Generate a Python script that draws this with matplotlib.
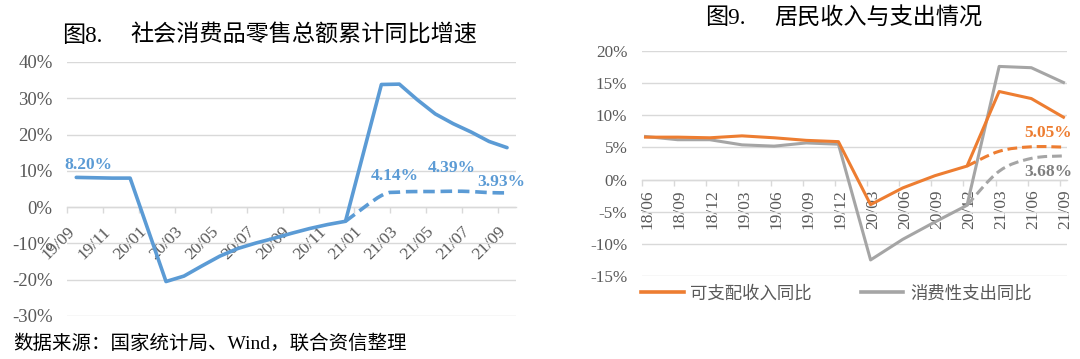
import numpy as np
import matplotlib
matplotlib.use("Agg")
import matplotlib.pyplot as plt
from matplotlib.path import Path
from matplotlib.patches import PathPatch
from matplotlib.lines import Line2D

# -----------------------------
# Data
# -----------------------------
# Fig 8: retail sales, cumulative yoy (%), monthly 19/09 .. 21/09
retail_months = ["19/09", "19/10", "19/11", "19/12", "20/01", "20/02", "20/03", "20/04",
                 "20/05", "20/06", "20/07", "20/08", "20/09", "20/10", "20/11", "20/12",
                 "21/01", "21/02", "21/03", "21/04", "21/05", "21/06", "21/07", "21/08", "21/09"]
retail_yoy = [8.2, 8.1, 8.0, 8.0, np.nan, -20.5, -19.0, -16.2, -13.5, -11.4, -9.9, -8.6,
              -7.2, -5.9, -4.8, -3.9, np.nan, 33.8, 33.9, 29.6, 25.7, 23.0, 20.7, 18.1, 16.4]
retail_2y_avg = [np.nan] * 15 + [-3.9, np.nan, 3.2, 4.14, 4.3, 4.3, 4.39, 4.3, 4.0, 3.93]
retail_ticklabels = retail_months[::2]
retail_yticks = [-30, -20, -10, 0, 10, 20, 30, 40]

# Fig 9: household income / spending, yoy (%), quarterly 18/06 .. 21/09
quarters = ["18/06", "18/09", "18/12", "19/03", "19/06", "19/09", "19/12",
            "20/03", "20/06", "20/09", "20/12", "21/03", "21/06", "21/09"]
income_yoy = [6.6, 6.6, 6.5, 6.8, 6.5, 6.1, 5.9, -3.9, -1.3, 0.6, 2.1, 13.7, 12.6, 9.7]
spend_yoy = [6.7, 6.2, 6.2, 5.4, 5.2, 5.7, 5.5, -12.5, -9.3, -6.6, -4.0, 17.6, 17.4, 15.1]
income_2y_avg = [np.nan] * 10 + [2.1, 4.4, 5.1, 5.05]
spend_2y_avg = [np.nan] * 10 + [-4.0, 1.3, 3.3, 3.68]
quarter_yticks = [-15, -10, -5, 0, 5, 10, 15, 20]

# -----------------------------
# Style
# -----------------------------
BLUE = "#5B9BD5"
ORANGE = "#ED7D31"
GRAY = "#A5A5A5"
TXT = "#595959"
GRID = "#D9D9D9"
SERIF = "Liberation Serif"
CJK = ["Liberation Serif", "Noto Sans CJK SC", "DejaVu Sans"]

W, H = 1080, 359
fig = plt.figure(figsize=(W / 100, H / 100), dpi=100)


def px_box(x0, x1, ytop, ybot):
    return [x0 / W, 1 - ybot / H, (x1 - x0) / W, (ybot - ytop) / H]


def valid(ys):
    ys = np.asarray(ys, dtype=float)
    xs = np.arange(len(ys))
    m = ~np.isnan(ys)
    return xs[m], ys[m]


def smooth_path(xs, ys):
    # Excel-like smoothed line (Catmull-Rom as cubic bezier)
    pts = list(zip(xs, ys))
    verts = [pts[0]]
    codes = [Path.MOVETO]
    for i in range(len(pts) - 1):
        p0 = pts[i - 1] if i > 0 else pts[i]
        p1 = pts[i]
        p2 = pts[i + 1]
        p3 = pts[i + 2] if i + 2 < len(pts) else pts[i + 1]
        c1 = (p1[0] + (p2[0] - p0[0]) / 6, p1[1] + (p2[1] - p0[1]) / 6)
        c2 = (p2[0] - (p3[0] - p1[0]) / 6, p2[1] - (p3[1] - p1[1]) / 6)
        verts += [c1, c2, p2]
        codes += [Path.CURVE4] * 3
    return Path(verts, codes)


def dashed_smooth(ax, ys, color, lw):
    xs, yv = valid(ys)
    patch = PathPatch(smooth_path(xs, yv), fill=False, edgecolor=color, lw=lw,
                      linestyle=(0, (3.2, 1.6)), capstyle="butt", zorder=3)
    ax.add_patch(patch)


def base_axes(ax, yticks, fs):
    for s in ["left", "right", "top"]:
        ax.spines[s].set_visible(False)
    ax.spines["bottom"].set_position(("data", 0))
    ax.spines["bottom"].set_color(GRID)
    ax.spines["bottom"].set_linewidth(1.0)
    ax.set_yticks(yticks)
    ax.set_yticklabels([f"{v}%" for v in yticks], fontfamily=SERIF, fontsize=fs, color=TXT)
    ax.tick_params(axis="y", length=0, pad=10.5)
    ax.grid(axis="y", color=GRID, lw=1.0)
    ax.set_axisbelow(True)


# -----------------------------
# Fig 8
# -----------------------------
ax1 = fig.add_axes(px_box(67.3, 516, 62, 316))
base_axes(ax1, retail_yticks, 13.5)
ax1.set_xlim(-0.5, len(retail_months) - 0.5)
ax1.set_ylim(-30, 40)

x, y = valid(retail_yoy)
ax1.plot(x, y, color=BLUE, lw=2.6, solid_joinstyle="round", solid_capstyle="round", zorder=4)
dashed_smooth(ax1, retail_2y_avg, BLUE, 2.6)

ax1.set_xticks(np.arange(0, len(retail_months), 2) + 0.1)
ax1.set_xticklabels(retail_ticklabels, rotation=45, ha="right", va="top",
                    fontfamily=SERIF, fontsize=12.5, color=TXT)
ax1.set_xticks(np.arange(-0.5, len(retail_months), 2), minor=True)
ax1.tick_params(axis="x", which="major", length=0, pad=12)
ax1.tick_params(axis="x", which="minor", length=4, color=GRID, width=1.0, direction="out")

lab_kw = dict(textcoords="offset pixels", ha="center", va="center", fontfamily=SERIF,
              fontsize=12.5, fontweight="bold", color=BLUE, annotation_clip=False)
ax1.annotate("8.20%", (0, retail_yoy[0]), xytext=(12, 12), **lab_kw)
ax1.annotate("4.14%", (18, retail_2y_avg[18]), xytext=(-5, 16.5), **lab_kw)
ax1.annotate("4.39%", (21, retail_2y_avg[21]), xytext=(-1, 23), **lab_kw)
ax1.annotate("3.93%", (24, retail_2y_avg[24]), xytext=(-6, 11), **lab_kw)

fig.text(62 / W, 1 - 36 / H, "图8.", fontsize=16.7, family=CJK, va="center", ha="left")
fig.text(130 / W, 1 - 36 / H, "社会消费品零售总额累计同比增速", fontsize=16.7, family=CJK,
         va="center", ha="left")

# -----------------------------
# Fig 9
# -----------------------------
ax2 = fig.add_axes(px_box(642, 1067, 51, 276))
base_axes(ax2, quarter_yticks, 12.3)
ax2.set_xlim(-0.11, len(quarters) - 1 + 0.11)
ax2.set_ylim(-15, 20)

ax2.plot(np.arange(len(quarters)), spend_yoy, color=GRAY, lw=2.2, solid_joinstyle="round", zorder=3)
ax2.plot(np.arange(len(quarters)), income_yoy, color=ORANGE, lw=2.2, solid_joinstyle="round", zorder=4)
dashed_smooth(ax2, spend_2y_avg, GRAY, 2.2)
dashed_smooth(ax2, income_2y_avg, ORANGE, 2.2)

ax2.set_xticks(np.arange(len(quarters)) + 0.07)
ax2.set_xticklabels(quarters, rotation=90, ha="center", va="top",
                    fontfamily=SERIF, fontsize=12.5, color=TXT)
ax2.set_xticks(np.arange(len(quarters)) - 0.11, minor=True)
ax2.tick_params(axis="x", which="major", length=0, pad=7)
ax2.tick_params(axis="x", which="minor", length=4, color=GRID, width=1.0, direction="out")

lab_kw2 = dict(textcoords="offset pixels", ha="center", va="center", fontfamily=SERIF,
               fontsize=12.5, fontweight="bold", annotation_clip=False)
ax2.annotate("5.05%", (13, income_2y_avg[13]), xytext=(-15, 14), color=ORANGE, **lab_kw2)
ax2.annotate("3.68%", (13, spend_2y_avg[13]), xytext=(-15, -16), color="#7F7F7F", **lab_kw2)

handles = [Line2D([], [], color=ORANGE, lw=2.6), Line2D([], [], color=GRAY, lw=2.6)]
leg = fig.legend(handles, ["可支配收入同比", "消费性支出同比"], loc="center left",
                 bbox_to_anchor=(641 / W, 1 - 294 / H), ncol=2, frameon=False,
                 borderpad=0, borderaxespad=0, handlelength=2.45, handletextpad=0.4,
                 columnspacing=2.8, prop={"family": CJK, "size": 12.5})
for t in leg.get_texts():
    t.set_color(TXT)

fig.text(705 / W, 1 - 19 / H, "图9.", fontsize=16.7, family=CJK, va="center", ha="left")
fig.text(774 / W, 1 - 19 / H, "居民收入与支出情况", fontsize=16.7, family=CJK,
         va="center", ha="left")

fig.text(13 / W, 1 - 344 / H, "数据来源：国家统计局、Wind，联合资信整理", fontsize=14,
         family=CJK, va="center", ha="left")

fig.savefig("out.png", dpi=100)
